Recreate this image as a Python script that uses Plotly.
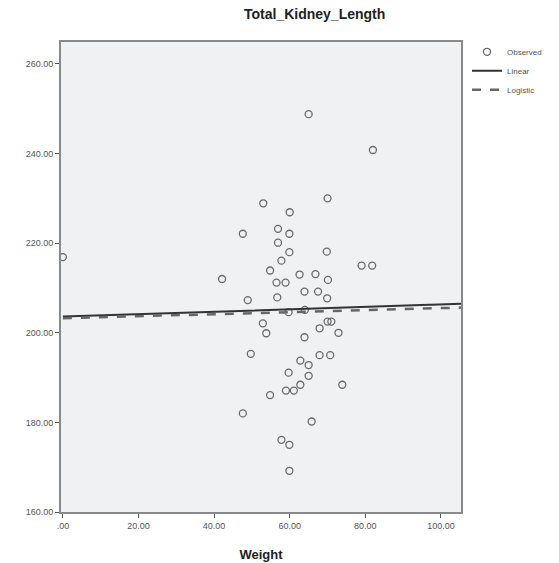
import numpy as np
import plotly.graph_objects as go

weight = [0.0, 65.0, 82.0, 70.0, 53.0, 60.0, 47.6, 56.9, 59.9, 56.9, 59.9, 57.8, 54.8,
          62.6, 42.1, 56.5, 58.9, 56.7, 48.9, 59.7, 64.0, 52.9, 53.8, 49.7, 69.8, 79.0,
          81.8, 66.8, 70.1, 63.9, 67.5, 69.9, 70.0, 71.0, 67.9, 72.9, 63.9, 67.9, 70.7,
          62.8, 65.0, 65.0, 62.8, 61.1, 59.0, 73.9, 65.8, 59.7, 54.8, 47.6, 57.8, 59.9,
          59.9]
kidney_length = [216.9, 248.8, 240.8, 230.0, 228.9, 226.9, 222.1, 223.2, 222.1, 220.1,
                 218.0, 216.1, 213.9, 213.0, 212.0, 211.2, 211.2, 207.9, 207.3, 204.6,
                 205.1, 202.1, 199.9, 195.3, 218.1, 215.0, 215.0, 213.1, 211.8, 209.2,
                 209.2, 207.7, 202.5, 202.5, 201.0, 200.0, 199.0, 195.0, 195.0, 193.8,
                 192.8, 190.4, 188.4, 187.1, 187.1, 188.4, 180.2, 191.1, 186.1, 182.0,
                 176.1, 175.0, 169.2]

x_tick_vals = [0, 20, 40, 60, 80, 100]
x_tick_text = [".00", "20.00", "40.00", "60.00", "80.00", "100.00"]
y_tick_vals = [160, 180, 200, 220, 240, 260]
y_tick_text = ["160.00", "180.00", "200.00", "220.00", "240.00", "260.00"]

x = np.array(weight)
y = np.array(kidney_length)

# Linear fit
b1, b0 = np.polyfit(x, y, 1)
# SPSS-style logistic (no upper bound): ln(1/y) = ln(b0) + t*ln(b1)
c1, c0 = np.polyfit(x, np.log(1.0 / y), 1)

xs = np.linspace(0, 105.3, 200)
lin = b0 + b1 * xs
logi = 1.0 / np.exp(c0 + c1 * xs)

fig = go.Figure()
fig.add_trace(go.Scatter(x=weight, y=kidney_length, mode="markers", name="Observed",
                         marker=dict(symbol="circle-open", size=7,
                                     color="#6a6a6a", line=dict(width=1.3, color="#6a6a6a"))))
fig.add_trace(go.Scatter(x=xs, y=lin, mode="lines", name="Linear",
                         line=dict(color="#333333", width=2)))
fig.add_trace(go.Scatter(x=xs, y=logi, mode="lines", name="Logistic",
                         line=dict(color="#666666", width=2.5, dash="dash")))

axis_common = dict(showgrid=False, zeroline=False, showline=True, mirror=True,
                   linecolor="#8a8a8a", linewidth=2, ticks="outside", ticklen=4,
                   tickcolor="#555555", tickwidth=1, automargin=False,
                   tickfont=dict(family="Liberation Sans, Arial", size=9, color="#555555"))

W, H = 559, 563
ML, MR, MT, MB = 61, 82, 42, 51

fig.update_layout(
    width=W, height=H,
    margin=dict(l=ML, r=MR, t=MT, b=MB),
    paper_bgcolor="white",
    plot_bgcolor="#eff1f3",
    showlegend=True,
    legend=dict(x=1.015, y=1.01, xanchor="left", yanchor="top",
                font=dict(family="Liberation Sans, Arial", size=8, color="#555555"),
                itemwidth=30, tracegroupgap=0, bgcolor="rgba(0,0,0,0)"),
    xaxis=dict(range=[-0.5, 105.3], tickvals=x_tick_vals, ticktext=x_tick_text,
               title=dict(text="<b>Weight</b>", standoff=20,
                          font=dict(family="Liberation Sans, Arial", size=13, color="#222222")),
               **axis_common),
    yaxis=dict(range=[160, 264.9], tickvals=y_tick_vals, ticktext=y_tick_text,
               **axis_common),
    annotations=[dict(text="<b>Total_Kidney_Length</b>",
                      x=(325 - ML) / (W - ML - MR), y=1 + (MT - 14) / (H - MT - MB),
                      xref="paper", yref="paper", xanchor="center", yanchor="middle",
                      showarrow=False,
                      font=dict(family="Liberation Sans, Arial", size=14, color="#222222"))],
)

fig.write_html("out.html", config={"displayModeBar": False},
               post_script="document.body.style.margin='0px';")
